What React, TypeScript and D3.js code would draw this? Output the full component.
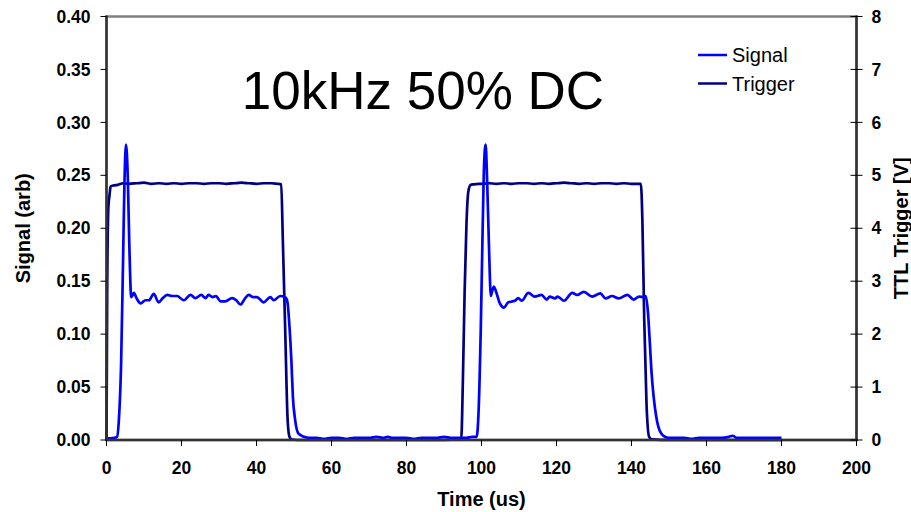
import React from "react";
import * as d3 from "d3";

const signalData: [number, number][] = [
  [0, 0.0015], [1, 0.0016], [2, 0.002], [2.8, 0.003], [3.3, 0.019], [3.9, 0.073], [4.4, 0.167], [4.8, 0.245],
  [5.2, 0.279], [5.7, 0.245], [6.1, 0.182], [6.6, 0.135], [7.0, 0.137], [7.3, 0.139], [8.0, 0.134], [9.1, 0.129],
  [10.4, 0.132], [11.3, 0.132], [12.6, 0.138], [13.9, 0.130], [15, 0.134], [16.2, 0.137], [17.5, 0.136], [18.8, 0.136],
  [20.6, 0.132], [22.4, 0.137], [23.7, 0.134], [25.3, 0.137], [26.4, 0.134], [27.2, 0.137], [28.3, 0.135], [29.2, 0.136],
  [30.4, 0.131], [31.7, 0.131], [33.5, 0.134], [34.6, 0.132], [35.7, 0.128], [37.0, 0.134], [37.9, 0.137], [39.2, 0.135],
  [40.1, 0.135], [41.9, 0.130], [43.7, 0.135], [44.6, 0.132], [46.3, 0.136], [47.5, 0.135], [47.9, 0.134], [48.3, 0.129],
  [48.8, 0.107], [49.3, 0.075], [49.7, 0.041], [50.3, 0.019], [51.2, 0.006], [52.7, 0.003], [54, 0.002], [56, 0.002],
  [58, 0.001], [60, 0.002], [62, 0.002], [64, 0.001], [66, 0.002], [68, 0.002], [70, 0.002], [72, 0.003],
  [74, 0.002], [75, 0.003], [76, 0.002], [78, 0.002], [80, 0.002], [82, 0.001], [84, 0.002], [86, 0.002],
  [88, 0.002], [90, 0.003], [92, 0.002], [94, 0.002], [96, 0.002], [97.5, 0.003], [98.7, 0.003], [99.2, 0.025],
  [99.8, 0.104], [100.3, 0.198], [100.7, 0.261], [101.1, 0.279], [101.5, 0.245], [102.0, 0.182], [102.5, 0.136], [102.8, 0.140],
  [103.3, 0.145], [103.8, 0.141], [104.9, 0.129], [106.0, 0.125], [107.1, 0.130], [107.6, 0.1305], [108.9, 0.1315], [109.8, 0.134],
  [110.7, 0.1315], [112.5, 0.139], [114.2, 0.1355], [116.0, 0.137], [117.4, 0.1326], [118.2, 0.1355], [119.6, 0.1337], [120.3, 0.1355],
  [122.0, 0.1315], [124.2, 0.139], [125.5, 0.137], [127.3, 0.140], [129.5, 0.1355], [131.7, 0.1384], [133.1, 0.1337], [134.8, 0.136],
  [136.6, 0.1337], [138.9, 0.137], [140.6, 0.1326], [142.0, 0.1355], [143.4, 0.135], [143.8, 0.136], [144.4, 0.120], [144.9, 0.091],
  [145.3, 0.066], [145.9, 0.041], [146.6, 0.022], [147.5, 0.009], [148.9, 0.003], [150, 0.002], [152, 0.002], [154, 0.002],
  [156, 0.001], [158, 0.002], [160, 0.002], [162, 0.002], [164, 0.002], [166, 0.003], [167, 0.004], [168, 0.002],
  [170, 0.002], [172, 0.002], [174, 0.002], [176, 0.002], [178, 0.002], [180, 0.002],
];

const triggerData: [number, number][] = [
  [0, 0], [0.2, 3.0], [0.5, 4.4], [0.8, 4.62], [1.1, 4.79], [2, 4.81], [3, 4.82], [4.5, 4.85],
  [6, 4.84], [8, 4.85], [10, 4.86], [12, 4.84], [14, 4.85], [16, 4.84], [18, 4.85], [20, 4.84],
  [22, 4.85], [24, 4.85], [26, 4.84], [28, 4.85], [30, 4.85], [32, 4.84], [34, 4.85], [36, 4.86],
  [38, 4.85], [40, 4.84], [42, 4.85], [44, 4.85], [45.5, 4.84], [46.6, 4.83], [47.0, 3.84], [47.7, 1.95],
  [48.3, 0.38], [48.8, 0.06], [49.5, 0.01], [52, 0], [60, 0], [70, 0], [80, 0], [90, 0],
  [94.6, 0.02], [95.0, 1.0], [95.5, 2.8], [96.0, 4.1], [96.5, 4.7], [97.1, 4.82], [98, 4.83], [100, 4.84],
  [102, 4.85], [104, 4.84], [106, 4.85], [108, 4.84], [110, 4.85], [112, 4.85], [114, 4.84], [116, 4.85],
  [118, 4.84], [120, 4.85], [122, 4.86], [124, 4.85], [126, 4.84], [128, 4.85], [130, 4.84], [132, 4.85],
  [134, 4.85], [136, 4.84], [138, 4.85], [140, 4.84], [142.5, 4.84], [142.9, 4.15], [143.4, 2.26], [144.0, 0.69],
  [144.7, 0.06], [145.5, 0.01], [150, 0], [160, 0], [170, 0], [180, 0],
];

const xTicks = [0, 20, 40, 60, 80, 100, 120, 140, 160, 180, 200];
const yLeftTicks = [0, 0.05, 0.1, 0.15, 0.2, 0.25, 0.3, 0.35, 0.4];
const yRightTicks = [0, 1, 2, 3, 4, 5, 6, 7, 8];
const seriesNames = ["Signal", "Trigger"];
const seriesColors = ["#0000FF", "#000080"];
const title = "10kHz 50% DC";

const W = 911, H = 512;
const L = 106.5, R = 856.5, T = 16.5, B = 440;

export default function App() {
  const x = d3.scaleLinear().domain([0, 200]).range([L, R]);
  const yL = d3.scaleLinear().domain([0, 0.4]).range([B, T]);
  const yR = d3.scaleLinear().domain([0, 8]).range([B, T]);
  const lineL = d3.line<[number, number]>().x(d => x(d[0])).y(d => yL(d[1])).curve(d3.curveMonotoneX);
  const lineR = d3.line<[number, number]>().x(d => x(d[0])).y(d => yR(d[1])).curve(d3.curveMonotoneX);
  const font = "'Liberation Sans', Arial, sans-serif";
  return (
    <svg width={W} height={H} style={{ position: "absolute", left: 0, top: 0, background: "#fff" }} fontFamily={font}>
      <rect x={0} y={0} width={W} height={H} fill="#fff" />
      <rect x={L} y={T} width={R - L} height={B - T} fill="none" stroke="#808080" strokeWidth={2.5} />
      <path d={lineR(triggerData) || ""} fill="none" stroke={seriesColors[1]} strokeWidth={2.7} strokeLinejoin="round" />
      <path d={lineL(signalData) || ""} fill="none" stroke={seriesColors[0]} strokeWidth={2.7} strokeLinejoin="round" />
      <line x1={L} x2={L} y1={T - 1} y2={B + 1} stroke="#333" strokeWidth={2.5} />
      <line x1={L - 1} x2={R + 1} y1={B} y2={B} stroke="#333" strokeWidth={2.5} />
      <line x1={R} x2={R} y1={T - 1} y2={B + 1} stroke="#333" strokeWidth={2.5} />
      {yLeftTicks.map(t => (
        <g key={"l" + t}>
          <line x1={L - 6} x2={L} y1={yL(t)} y2={yL(t)} stroke="#000" strokeWidth={1} />
          <text x={L - 16} y={yL(t)} dy="0.35em" textAnchor="end" fontSize={17.5} fontWeight="bold">{t.toFixed(2)}</text>
        </g>
      ))}
      {yRightTicks.map(t => (
        <g key={"r" + t}>
          <line x1={R - 6} x2={R + 6} y1={yR(t)} y2={yR(t)} stroke="#000" strokeWidth={1} />
          <text x={R + 15} y={yR(t)} dy="0.35em" textAnchor="start" fontSize={17.5} fontWeight="bold">{t}</text>
        </g>
      ))}
      {xTicks.map(t => (
        <g key={"x" + t}>
          <line x1={x(t)} x2={x(t)} y1={B} y2={B + 6} stroke="#000" strokeWidth={1} />
          <text x={x(t)} y={474} textAnchor="middle" fontSize={17.5} fontWeight="bold">{t}</text>
        </g>
      ))}
      <text x={(L + R) / 2} y={506} textAnchor="middle" fontSize={20} fontWeight="bold">Time (us)</text>
      <text transform={`translate(30,${(T + B) / 2}) rotate(-90)`} textAnchor="middle" fontSize={20} fontWeight="bold">Signal (arb)</text>
      <text transform={`translate(908,${(T + B) / 2}) rotate(-90)`} textAnchor="middle" fontSize={20} fontWeight="bold">TTL Trigger [V]</text>
      <text x={423} y={109} textAnchor="middle" fontSize={53}>{title}</text>
      {seriesNames.map((n, i) => (
        <g key={n}>
          <line x1={698} x2={727} y1={55 + i * 28.5} y2={55 + i * 28.5} stroke={seriesColors[i]} strokeWidth={2.5} />
          <text x={732} y={55 + i * 28.5} dy="0.36em" fontSize={20}>{n}</text>
        </g>
      ))}
    </svg>
  );
}
